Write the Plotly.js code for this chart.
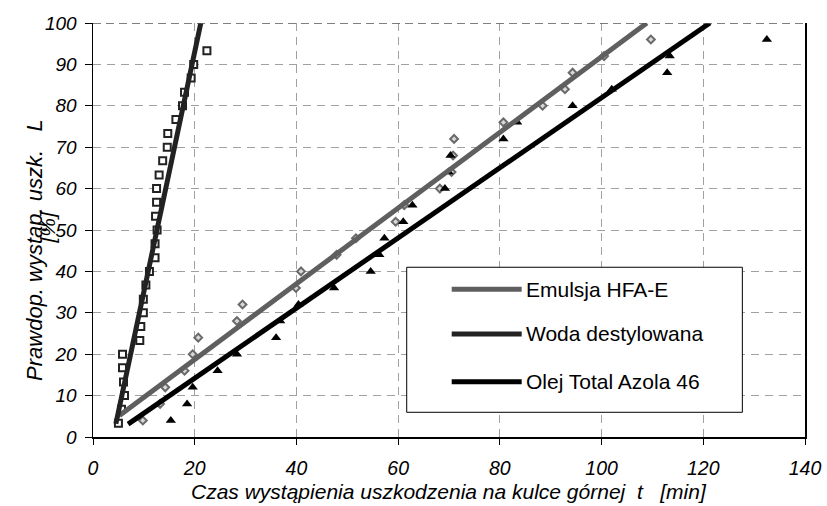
<!DOCTYPE html>
<html>
<head>
<meta charset="utf-8">
<script src="https://cdn.plot.ly/plotly-3.0.1.min.js"></script>
<style>html,body{margin:0;padding:0;background:#fff;}#chart{width:827px;height:506px;}</style>
</head>
<body>
<div id="chart"></div>
<script>
// ---- data ----
var seriesNames = ["Emulsja HFA-E", "Woda destylowana", "Olej Total Azola 46"];

// Emulsja HFA-E (diamonds)
var emulsjaX = [9.8, 13.2, 14.2, 18.0, 19.6, 20.7, 28.3, 29.4, 39.9, 40.9, 47.9, 51.7, 59.5, 61.2, 68.2, 70.5, 70.8, 71.0, 80.7, 88.4, 92.8, 94.3, 100.5, 109.7];
var emulsjaY = [4, 8, 12, 16, 20, 24, 28, 32, 36, 40, 44, 48, 52, 56, 60, 64, 68, 72, 76, 80, 84, 88, 92, 96];

// Woda destylowana (squares)
var wodaX = [5.0, 5.6, 6.2, 6.0, 5.8, 5.8, 9.2, 9.4, 9.9, 9.9, 10.4, 11.1, 12.2, 12.2, 12.6, 12.3, 12.5, 12.5, 13.0, 13.7, 14.6, 14.7, 16.3, 17.6, 18.0, 19.3, 19.8, 22.4];
var wodaY = [3.3, 6.7, 10.0, 13.3, 16.7, 20.0, 23.3, 26.7, 30.0, 33.3, 36.7, 40.0, 43.3, 46.7, 50.0, 53.3, 56.7, 60.0, 63.3, 66.7, 70.0, 73.3, 76.7, 80.0, 83.3, 86.7, 90.0, 93.3];

// Olej Total Azola 46 (triangles)
var olejX = [15.3, 18.5, 19.6, 24.5, 28.3, 36.0, 36.8, 40.4, 47.4, 54.6, 56.3, 57.3, 61.0, 62.8, 69.2, 69.9, 70.3, 80.7, 83.4, 94.3, 102.0, 112.9, 113.4, 132.5];
var olejY = [4, 8, 12, 16, 20, 24, 28, 32, 36, 40, 44, 48, 52, 56, 60, 64, 68, 72, 76, 80, 84, 88, 92, 96];

// fitted lines (end points)
var emulsjaFitX = [5.2, 108.9], emulsjaFitY = [5.2, 100];
var wodaFitX = [4.5, 21.2],     wodaFitY = [3.2, 100];
var olejFitX = [6.9, 121.3],    olejFitY = [3.1, 100];

// axis ticks
var xTicks = [0, 20, 40, 60, 80, 100, 120, 140];
var yTicks = [0, 10, 20, 30, 40, 50, 60, 70, 80, 90, 100];

var lineColors = ["#5f5f5f", "#222222", "#000000"];
var FONT = "Liberation Sans, Arial, sans-serif";

var traces = [
  {x: emulsjaX, y: emulsjaY, type: "scatter", mode: "markers", showlegend: false, name: seriesNames[0],
   marker: {symbol: "diamond", size: 6, color: "#d8d8d8", line: {color: "#6a6a6a", width: 2}}},
  {x: wodaX, y: wodaY, type: "scatter", mode: "markers", showlegend: false, name: seriesNames[1],
   marker: {symbol: "square", size: 7, color: "#ffffff", line: {color: "#222222", width: 2}}},
  {x: olejX, y: olejY, type: "scatter", mode: "markers", showlegend: false, name: seriesNames[2],
   marker: {symbol: "triangle-up", size: 9, color: "#000000", line: {color: "#000000", width: 0}}},
  {x: emulsjaFitX, y: emulsjaFitY, type: "scatter", mode: "lines", name: seriesNames[0], showlegend: false,
   line: {color: lineColors[0], width: 5}},
  {x: wodaFitX, y: wodaFitY, type: "scatter", mode: "lines", name: seriesNames[1], showlegend: false,
   line: {color: lineColors[1], width: 5}},
  {x: olejFitX, y: olejFitY, type: "scatter", mode: "lines", name: seriesNames[2], showlegend: false,
   line: {color: lineColors[2], width: 5}}
];

// custom legend box (paper coordinates)
var lgX0 = 0.4406, lgX1 = 0.912, lgY0 = 0.0597, lgY1 = 0.410;
var lgLineX0 = 0.5038, lgLineX1 = 0.6021, lgTextX = 0.605;
var lgRows = [0.3568, 0.2488, 0.1336];

var shapes = [
  {type: "line", xref: "x", yref: "y", x0: 0, x1: 140, y0: 100, y1: 100,
   line: {color: "#555555", width: 1.5, dash: "8px,5px"}, layer: "above"},
  {type: "rect", xref: "paper", yref: "paper", x0: lgX0, x1: lgX1, y0: lgY0, y1: lgY1,
   fillcolor: "#ffffff", line: {color: "#000000", width: 1}, layer: "above"}
];
var annotations = [];
for (var i = 0; i < 3; i++) {
  shapes.push({type: "line", xref: "paper", yref: "paper", x0: lgLineX0, x1: lgLineX1, y0: lgRows[i], y1: lgRows[i],
    line: {color: lineColors[i], width: 5}, layer: "above"});
  annotations.push({xref: "paper", yref: "paper", x: lgTextX, y: lgRows[i], xanchor: "left", yanchor: "middle",
    text: seriesNames[i], showarrow: false, font: {family: FONT, size: 21, color: "#000"}});
}
// axis titles
annotations.push({xref: "paper", yref: "paper", x: 0.5, y: -0.131, xanchor: "center", yanchor: "middle",
  text: "<i>Czas wystąpienia uszkodzenia na kulce górnej\u00A0\u00A0t\u00A0\u00A0\u00A0[min]</i>", showarrow: false,
  font: {family: FONT, size: 21, color: "#000"}});
annotations.push({xref: "paper", yref: "paper", x: -0.0815, y: 0.4517, xanchor: "center", yanchor: "middle", textangle: -90,
  text: "<i>Prawdop. wystąp. uszk.\u00A0\u00A0\u00A0L</i>", showarrow: false,
  font: {family: FONT, size: 22, color: "#000"}});
annotations.push({xref: "paper", yref: "paper", x: -0.064, y: 0.507, xanchor: "center", yanchor: "middle", textangle: -90,
  text: "<i>[%]</i>", showarrow: false,
  font: {family: FONT, size: 21, color: "#000"}});

function it(v) { return "<i>" + v + "</i>"; }

var layout = {
  width: 827, height: 506,
  margin: {l: 93, r: 22, t: 23, b: 69},
  paper_bgcolor: "#ffffff", plot_bgcolor: "#ffffff",
  showlegend: false,
  xaxis: {
    range: [0, 140], tickvals: xTicks, ticktext: xTicks.map(it),
    showgrid: true, gridcolor: "#a0a0a0", griddash: "8px,6px", gridwidth: 1,
    zeroline: false, showline: true, linecolor: "#000", linewidth: 1.5,
    ticks: "outside", ticklen: 6, tickcolor: "#000", tickwidth: 1,
    ticklabelstandoff: 7,
    tickfont: {family: FONT, size: 19.5, color: "#000"}
  },
  yaxis: {
    range: [0, 100], tickvals: yTicks, ticktext: yTicks.map(it),
    showgrid: true, gridcolor: "#a0a0a0", griddash: "8px,6px", gridwidth: 1,
    zeroline: false, showline: true, mirror: true, linecolor: "#000", linewidth: 1.5,
    ticks: "outside", ticklen: 7, tickcolor: "#000", tickwidth: 1,
    ticklabelstandoff: 4,
    tickfont: {family: FONT, size: 19, color: "#000"}
  },
  shapes: shapes,
  annotations: annotations
};

Plotly.newPlot("chart", traces, layout, {staticPlot: true, displayModeBar: false});
</script>
</body>
</html>
